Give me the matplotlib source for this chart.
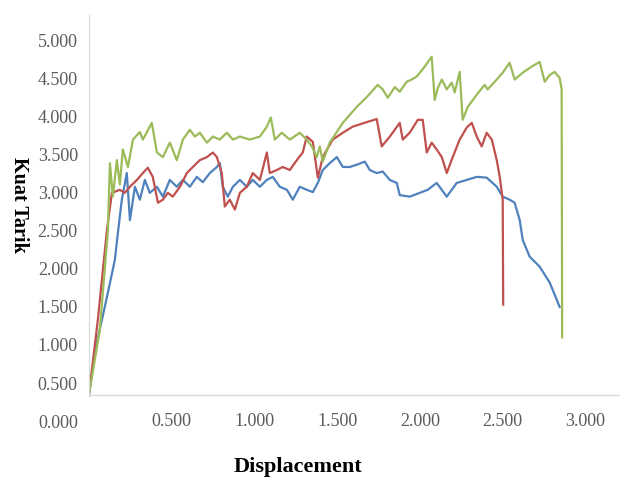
import matplotlib
matplotlib.use('Agg')
import matplotlib.pyplot as plt

# Displacement / Kuat Tarik readings for the three specimens
blue_x = [0.0, 0.018, 0.048, 0.109, 0.157, 0.175, 0.199, 0.229, 0.248, 0.278, 0.308, 0.338,
          0.368, 0.411, 0.447, 0.489, 0.531, 0.568, 0.610, 0.652, 0.688, 0.731, 0.773, 0.791,
          0.809, 0.839, 0.870, 0.912, 0.954, 0.990, 1.033, 1.075, 1.111, 1.153, 1.196, 1.232,
          1.274, 1.316, 1.353, 1.383, 1.413, 1.455, 1.498, 1.534, 1.576, 1.618, 1.667, 1.697,
          1.739, 1.775, 1.818, 1.860, 1.878, 1.938, 1.999, 2.047, 2.101, 2.162, 2.222, 2.283,
          2.343, 2.403, 2.464, 2.500, 2.542, 2.572, 2.603, 2.621, 2.663, 2.723, 2.784, 2.844]
blue_y = [0.34, 0.61, 1.03, 1.63, 2.12, 2.47, 2.91, 3.26, 2.64, 3.08, 2.91, 3.17,
          3.00, 3.08, 2.95, 3.17, 3.08, 3.17, 3.08, 3.21, 3.14, 3.26, 3.34, 3.39,
          3.08, 2.95, 3.08, 3.17, 3.08, 3.17, 3.08, 3.17, 3.21, 3.08, 3.04, 2.91,
          3.08, 3.04, 3.01, 3.13, 3.30, 3.39, 3.47, 3.34, 3.34, 3.37, 3.41, 3.30,
          3.26, 3.28, 3.17, 3.13, 2.97, 2.95, 3.00, 3.04, 3.13, 2.95, 3.13, 3.17,
          3.21, 3.20, 3.08, 2.95, 2.91, 2.87, 2.64, 2.38, 2.16, 2.03, 1.82, 1.50]

red_x = [0.0, 0.054, 0.109, 0.139, 0.187, 0.217, 0.248, 0.290, 0.326, 0.356, 0.386, 0.417,
         0.447, 0.477, 0.507, 0.550, 0.592, 0.628, 0.670, 0.713, 0.749, 0.773, 0.803, 0.821,
         0.851, 0.882, 0.912, 0.954, 0.990, 1.033, 1.075, 1.093, 1.135, 1.171, 1.214, 1.256,
         1.292, 1.316, 1.353, 1.383, 1.413, 1.473, 1.534, 1.594, 1.679, 1.739, 1.769, 1.818,
         1.878, 1.896, 1.938, 1.987, 2.017, 2.041, 2.071, 2.101, 2.132, 2.162, 2.198, 2.240,
         2.283, 2.313, 2.343, 2.373, 2.403, 2.434, 2.464, 2.482, 2.500, 2.503]
red_y = [0.34, 1.33, 2.51, 3.00, 3.04, 3.00, 3.08, 3.17, 3.26, 3.33, 3.21, 2.87,
         2.91, 3.00, 2.95, 3.08, 3.26, 3.34, 3.43, 3.47, 3.53, 3.47, 3.26, 2.82,
         2.91, 2.78, 3.00, 3.08, 3.26, 3.17, 3.53, 3.26, 3.30, 3.34, 3.30, 3.43,
         3.53, 3.74, 3.67, 3.20, 3.47, 3.70, 3.79, 3.87, 3.93, 3.97, 3.61, 3.74,
         3.92, 3.70, 3.79, 3.96, 3.96, 3.53, 3.66, 3.57, 3.47, 3.26, 3.47, 3.70,
         3.86, 3.92, 3.74, 3.61, 3.79, 3.70, 3.43, 3.21, 2.91, 1.53]

green_x = [0.0, 0.066, 0.115, 0.127, 0.145, 0.169, 0.187, 0.205, 0.236, 0.266, 0.308, 0.326,
           0.380, 0.411, 0.447, 0.489, 0.531, 0.568, 0.610, 0.640, 0.670, 0.713, 0.749, 0.791,
           0.833, 0.870, 0.912, 0.972, 1.033, 1.075, 1.099, 1.123, 1.165, 1.214, 1.274, 1.316,
           1.347, 1.377, 1.395, 1.413, 1.455, 1.534, 1.618, 1.679, 1.745, 1.775, 1.806, 1.848,
           1.878, 1.920, 1.950, 1.981, 2.029, 2.071, 2.089, 2.108, 2.132, 2.162, 2.192, 2.210,
           2.240, 2.258, 2.289, 2.343, 2.391, 2.409, 2.464, 2.500, 2.542, 2.572, 2.621, 2.675,
           2.723, 2.754, 2.784, 2.814, 2.844, 2.856, 2.859]
green_y = [0.34, 1.20, 2.51, 3.39, 2.95, 3.43, 3.11, 3.57, 3.34, 3.70, 3.80, 3.70,
           3.92, 3.53, 3.47, 3.66, 3.43, 3.70, 3.83, 3.74, 3.79, 3.66, 3.74, 3.70,
           3.79, 3.70, 3.74, 3.70, 3.74, 3.87, 3.99, 3.70, 3.79, 3.70, 3.79, 3.70,
           3.61, 3.47, 3.61, 3.41, 3.66, 3.92, 4.13, 4.26, 4.42, 4.36, 4.25, 4.39,
           4.33, 4.46, 4.49, 4.53, 4.66, 4.79, 4.22, 4.38, 4.49, 4.36, 4.45, 4.32,
           4.59, 3.96, 4.13, 4.29, 4.42, 4.36, 4.49, 4.58, 4.71, 4.49, 4.58, 4.66,
           4.72, 4.46, 4.55, 4.59, 4.51, 4.36, 1.10]

y_ticks = [0.0, 0.5, 1.0, 1.5, 2.0, 2.5, 3.0, 3.5, 4.0, 4.5, 5.0]
x_ticks = [0.5, 1.0, 1.5, 2.0, 2.5, 3.0]
baseline = 0.34

fig = plt.figure(figsize=(6.26, 4.79), dpi=100)
ax = fig.add_axes([0.142, 0.121, 0.848, 0.848])

ax.plot(blue_x, blue_y, color='#4F81BD', lw=1.6)
ax.plot(red_x, red_y, color='#C0504D', lw=1.6)
ax.plot(green_x, green_y, color='#9BBB59', lw=1.6)

ax.set_xlim(0, 3.207)
ax.set_ylim(0, 5.34)
ax.axhline(baseline, color='#d9d9d9', lw=1.0, zorder=0)

for side in ['top', 'right', 'bottom']:
    ax.spines[side].set_visible(False)
ax.spines['left'].set_color('#d9d9d9')
ax.spines['left'].set_bounds(baseline, 5.34)

tick_font = dict(family='Liberation Serif', size=13, color='#5a5a5a')
ax.set_yticks(y_ticks)
ax.set_yticklabels([f'{t:.3f}' for t in y_ticks], **tick_font)
ax.set_xticks(x_ticks)
ax.set_xticklabels([f'{t:.3f}' for t in x_ticks], **tick_font)
ax.tick_params(axis='y', length=0, pad=8)
ax.tick_params(axis='x', length=0, pad=-6)

fig.text(0.030, 0.572, 'Kuat Tarik', rotation=270, ha='center', va='center',
         family='Liberation Serif', weight='bold', size=14.5, color='black')
fig.text(0.476, 0.026, 'Displacement', ha='center', va='center',
         family='Liberation Serif', weight='bold', size=16, color='black')

fig.savefig('out.png', dpi=100)
